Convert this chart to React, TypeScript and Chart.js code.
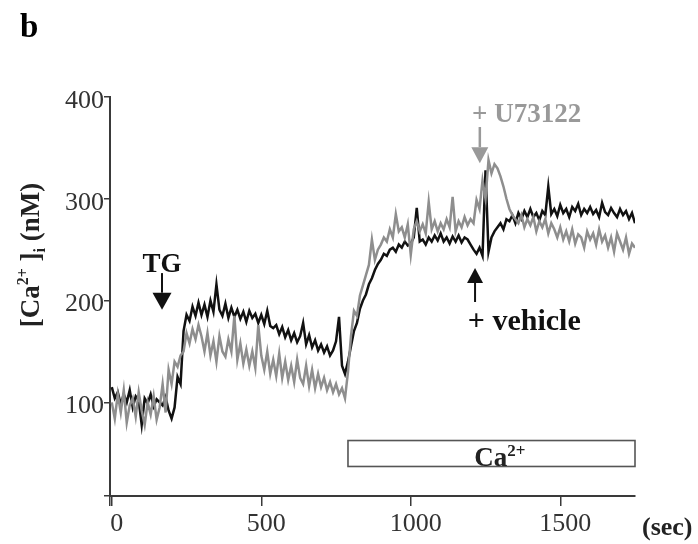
import { useEffect, useRef } from 'react';
import { Chart, registerables } from 'chart.js';

Chart.register(...registerables);

// Sampling times (sec)
const times = [
  0, 10, 20, 30, 40, 50, 60, 70, 80, 90,
  100, 110, 120, 130, 140, 150, 160, 170, 180, 190,
  200, 210, 220, 230, 240, 250, 260, 270, 280, 290,
  300, 310, 320, 330, 340, 350, 360, 370, 380, 390,
  400, 410, 420, 430, 440, 450, 460, 470, 480, 490,
  500, 510, 520, 530, 540, 550, 560, 570, 580, 590,
  600, 610, 620, 630, 640, 650, 660, 670, 680, 690,
  700, 710, 720, 730, 740, 750, 760, 770, 780, 790,
  800, 810, 820, 830, 840, 850, 860, 870, 880, 890,
  900, 910, 920, 930, 940, 950, 960, 970, 980, 990,
  1000, 1010, 1020, 1030, 1040, 1050, 1060, 1070, 1080, 1090,
  1100, 1110, 1120, 1130, 1140, 1150, 1160, 1170, 1180, 1190,
  1200, 1210, 1220, 1230, 1240, 1250, 1260, 1270, 1280, 1290,
  1300, 1310, 1320, 1330, 1340, 1350, 1360, 1370, 1380, 1390,
  1400, 1410, 1420, 1430, 1440, 1450, 1460, 1470, 1480, 1490,
  1500, 1510, 1520, 1530, 1540, 1550, 1560, 1570, 1580, 1590,
  1600, 1610, 1620, 1630, 1640, 1650, 1660, 1670, 1680, 1690,
  1700, 1710, 1720, 1730, 1740, 1750,
];

// [Ca2+]i (nM), vehicle trace (black)
const vehicleTrace = [
  115, 104, 110, 98, 108, 100, 112, 95, 106, 102,
  78, 104, 99, 108, 96, 103, 100, 97, 105, 92,
  84, 95, 125, 118, 170, 186, 180, 194, 185, 198,
  186, 196, 184, 200, 189, 216, 191, 185, 197, 183,
  193, 184, 191, 182, 189, 179, 190, 183, 187, 178,
  186, 177, 190, 175, 173, 176, 167, 174, 164, 171,
  161, 168, 159, 165, 178, 157, 166, 154, 161, 151,
  157, 149, 155, 146, 151, 160, 184, 136, 128, 140,
  155, 170, 178, 192, 200, 206, 216, 222, 230, 236,
  240, 246, 244, 250, 252, 248, 255, 252, 258, 254,
  256, 262, 291, 258, 260, 255, 262, 258, 264, 259,
  266, 258, 262, 256, 263, 258, 264, 257, 262, 260,
  255, 250, 246, 252, 244, 328, 248, 262, 268, 272,
  276, 270, 280, 278, 284, 276, 286, 280, 288, 282,
  290, 282, 286, 279, 288, 284, 312, 285, 290, 283,
  294, 286, 290, 282, 292, 288, 295, 284, 290, 286,
  292, 285, 289, 282, 296, 287, 284, 291, 286, 282,
  290, 284, 288, 280, 286, 276,
];

// [Ca2+]i (nM), U73122 trace (gray)
const u73122Trace = [
  100, 84, 108, 90, 112, 80, 97, 104, 86, 110,
  92, 78, 100, 88, 106, 83, 95, 118, 90, 132,
  118, 140, 135, 146, 150, 168, 158, 172, 162, 176,
  165, 150, 168, 146, 160, 140, 165, 150, 145, 162,
  150, 185, 142, 158, 138, 152, 136, 150, 134, 176,
  146, 132, 150, 128, 142, 126, 148, 124, 140, 122,
  136, 120, 142, 124, 118, 136, 116, 132, 114, 128,
  115, 124, 112, 120, 110, 118, 108, 114, 104, 130,
  165, 190, 185, 205, 215, 225, 235, 260, 240, 250,
  255, 262, 258, 270, 262, 285, 268, 272, 262, 275,
  245, 270, 278, 268, 275, 266, 297, 270, 278, 268,
  276, 270, 280, 272, 302, 268, 278, 272, 282, 274,
  280, 276, 299, 290, 318, 300, 338, 325, 334, 330,
  322, 312, 300, 290, 284, 280, 276, 284, 272, 280,
  274, 282, 268, 278, 272, 280, 266, 276, 270, 262,
  272, 260, 268, 258, 270, 256, 265, 262, 252, 268,
  260, 266, 255, 270, 258, 264, 252, 262, 248, 266,
  258, 250, 262, 246, 256, 252,
];

const xTickValues = [0, 500, 1000, 1500];
const yTickValues = [100, 200, 300, 400];
const X_MIN = -6;
const X_MAX = 1750;
const Y_MIN = 8;
const Y_MAX = 400;

// Ca2+ application bar (sec, nM)
const caBar = { start: 790, end: 1750, low: 37, high: 62.5 };
// Event markers (sec, nM)
const tgMark = { x: 168, tail: 227, tip: 191, textY: 228 };
const u73122Mark = { x: 1231, tail: 370.5, tip: 335, textX: 1205, textY: 375.4 };
const vehicleMark = { x: 1215, tail: 198.6, tip: 232, textX: 1191, textY: 171 };

const SERIF = "'Liberation Serif', 'Times New Roman', 'DejaVu Serif', serif";
const BLACK = '#111111';
const GRAY = '#8e8e8e';
const AXIS = '#3a3a3a';

function drawArrow(
  ctx: CanvasRenderingContext2D,
  x: number,
  yTail: number,
  yTip: number,
  color: string,
  headW: number,
  headH: number,
  lw: number
) {
  const dir = Math.sign(yTip - yTail);
  ctx.save();
  ctx.strokeStyle = color;
  ctx.fillStyle = color;
  ctx.lineWidth = lw;
  ctx.beginPath();
  ctx.moveTo(x, yTail);
  ctx.lineTo(x, yTip - dir * headH);
  ctx.stroke();
  ctx.beginPath();
  ctx.moveTo(x - headW / 2, yTip - dir * headH);
  ctx.lineTo(x + headW / 2, yTip - dir * headH);
  ctx.lineTo(x, yTip);
  ctx.closePath();
  ctx.fill();
  ctx.restore();
}

const annotationPlugin = {
  id: 'figureAnnotations',
  afterDraw(chart: any) {
    const ctx: CanvasRenderingContext2D = chart.ctx;
    const xs = chart.scales.x;
    const ys = chart.scales.y;
    const X = (v: number) => xs.getPixelForValue(v);
    const Y = (v: number) => ys.getPixelForValue(v);

    ctx.save();
    ctx.textBaseline = 'alphabetic';

    // panel letter
    ctx.fillStyle = '#000';
    ctx.font = `bold 33px ${SERIF}`;
    ctx.textAlign = 'left';
    ctx.fillText('b', 20, 37);

    // y-axis title, rotated
    const parts = [
      { t: '[Ca', size: 27, dy: 0 },
      { t: '2+', size: 16, dy: -11 },
      { t: ' ]', size: 27, dy: 0 },
      { t: 'i', size: 16, dy: 6 },
      { t: ' (nM)', size: 27, dy: 0 },
    ];
    let total = 0;
    const widths: number[] = [];
    for (const p of parts) {
      ctx.font = `bold ${p.size}px ${SERIF}`;
      const w = ctx.measureText(p.t).width;
      widths.push(w);
      total += w;
    }
    ctx.save();
    ctx.translate(39, 255);
    ctx.rotate(-Math.PI / 2);
    ctx.fillStyle = '#222';
    let cx = -total / 2;
    parts.forEach((p, i) => {
      ctx.font = `bold ${p.size}px ${SERIF}`;
      ctx.fillText(p.t, cx, p.dy);
      cx += widths[i];
    });
    ctx.restore();

    // (sec) unit label
    ctx.fillStyle = '#222';
    ctx.font = `bold 26px ${SERIF}`;
    ctx.textAlign = 'left';
    ctx.fillText('(sec)', xs.right + 7, xs.top + 39);

    // Ca2+ bar
    const bx0 = X(caBar.start);
    const bx1 = X(caBar.end);
    const by0 = Y(caBar.high);
    const by1 = Y(caBar.low);
    ctx.fillStyle = '#fff';
    ctx.fillRect(bx0, by0, bx1 - bx0, by1 - by0);
    ctx.strokeStyle = '#555';
    ctx.lineWidth = 1.6;
    ctx.strokeRect(bx0, by0, bx1 - bx0, by1 - by0);
    ctx.font = `bold 27px ${SERIF}`;
    const caW = ctx.measureText('Ca').width;
    ctx.font = `bold 17px ${SERIF}`;
    const supW = ctx.measureText('2+').width;
    const caCenter = X(1298);
    const caLeft = caCenter - (caW + supW) / 2;
    ctx.fillStyle = '#222';
    ctx.font = `bold 27px ${SERIF}`;
    ctx.fillText('Ca', caLeft, by1);
    ctx.font = `bold 17px ${SERIF}`;
    ctx.fillText('2+', caLeft + caW, by1 - 10);

    // TG marker
    ctx.fillStyle = BLACK;
    ctx.font = `bold 27px ${SERIF}`;
    ctx.textAlign = 'center';
    ctx.fillText('TG', X(tgMark.x), Y(tgMark.textY));
    drawArrow(ctx, X(tgMark.x), Y(tgMark.tail), Y(tgMark.tip), BLACK, 19, 17, 2);

    // U73122 marker
    ctx.fillStyle = '#999';
    ctx.font = `bold 27px ${SERIF}`;
    ctx.textAlign = 'left';
    ctx.fillText('+ U73122', X(u73122Mark.textX), Y(u73122Mark.textY));
    drawArrow(ctx, X(u73122Mark.x), Y(u73122Mark.tail), Y(u73122Mark.tip), '#999', 17, 16, 2.5);

    // vehicle marker
    ctx.fillStyle = BLACK;
    ctx.font = `bold 30px ${SERIF}`;
    ctx.textAlign = 'left';
    ctx.fillText('+ vehicle', X(vehicleMark.textX), Y(vehicleMark.textY));
    drawArrow(ctx, X(vehicleMark.x), Y(vehicleMark.tail), Y(vehicleMark.tip), BLACK, 16, 15, 2);

    ctx.restore();
  },
};

export default function App() {
  const canvasRef = useRef<HTMLCanvasElement | null>(null);

  useEffect(() => {
    const canvas = canvasRef.current;
    if (!canvas) return;
    const chart = new Chart(canvas, {
      type: 'line',
      data: {
        labels: times,
        datasets: [
          {
            label: '+ U73122',
            data: u73122Trace,
            borderColor: GRAY,
            borderWidth: 2.5,
            pointRadius: 0,
            tension: 0,
          },
          {
            label: '+ vehicle',
            data: vehicleTrace,
            borderColor: BLACK,
            borderWidth: 2.5,
            pointRadius: 0,
            tension: 0,
          },
        ],
      },
      options: {
        responsive: false,
        animation: false,
        devicePixelRatio: 1,
        layout: { padding: { top: 97, right: 63, left: 0, bottom: 0 } },
        plugins: {
          legend: { display: false },
          tooltip: { enabled: false },
        },
        scales: {
          x: {
            type: 'linear',
            min: X_MIN,
            max: X_MAX,
            afterBuildTicks: (scale: any) => {
              scale.ticks = [X_MIN, ...xTickValues].map((v) => ({ value: v }));
            },
            afterFit: (scale: any) => {
              scale.height = 48;
            },
            grid: {
              drawOnChartArea: false,
              color: AXIS,
              lineWidth: 1.5,
              tickLength: 10,
            },
            border: { color: AXIS, width: 2 },
            ticks: {
              color: '#333',
              font: { family: SERIF, size: 26 },
              padding: 3,
              labelOffset: 5,
              maxRotation: 0,
              autoSkip: false,
              callback: (v: any) => (xTickValues.includes(Number(v)) ? String(v) : ''),
            },
          },
          y: {
            type: 'linear',
            min: Y_MIN,
            max: Y_MAX,
            afterBuildTicks: (scale: any) => {
              scale.ticks = [Y_MIN, ...yTickValues].map((v) => ({ value: v }));
            },
            afterFit: (scale: any) => {
              scale.width = 110;
            },
            grid: {
              drawOnChartArea: false,
              color: AXIS,
              lineWidth: 1.5,
              tickLength: 6,
            },
            border: { color: AXIS, width: 2 },
            ticks: {
              color: '#333',
              font: { family: SERIF, size: 26 },
              padding: 0,
              labelOffset: 4,
              autoSkip: false,
              callback: (v: any) => (yTickValues.includes(Number(v)) ? String(v) : ''),
            },
          },
        },
      },
      plugins: [annotationPlugin],
    });
    return () => chart.destroy();
  }, []);

  return (
    <div
      style={{
        position: 'fixed',
        left: 0,
        top: 0,
        width: 698,
        height: 544,
        background: '#fff',
      }}
    >
      <canvas ref={canvasRef} width={698} height={544} style={{ display: 'block' }} />
    </div>
  );
}
